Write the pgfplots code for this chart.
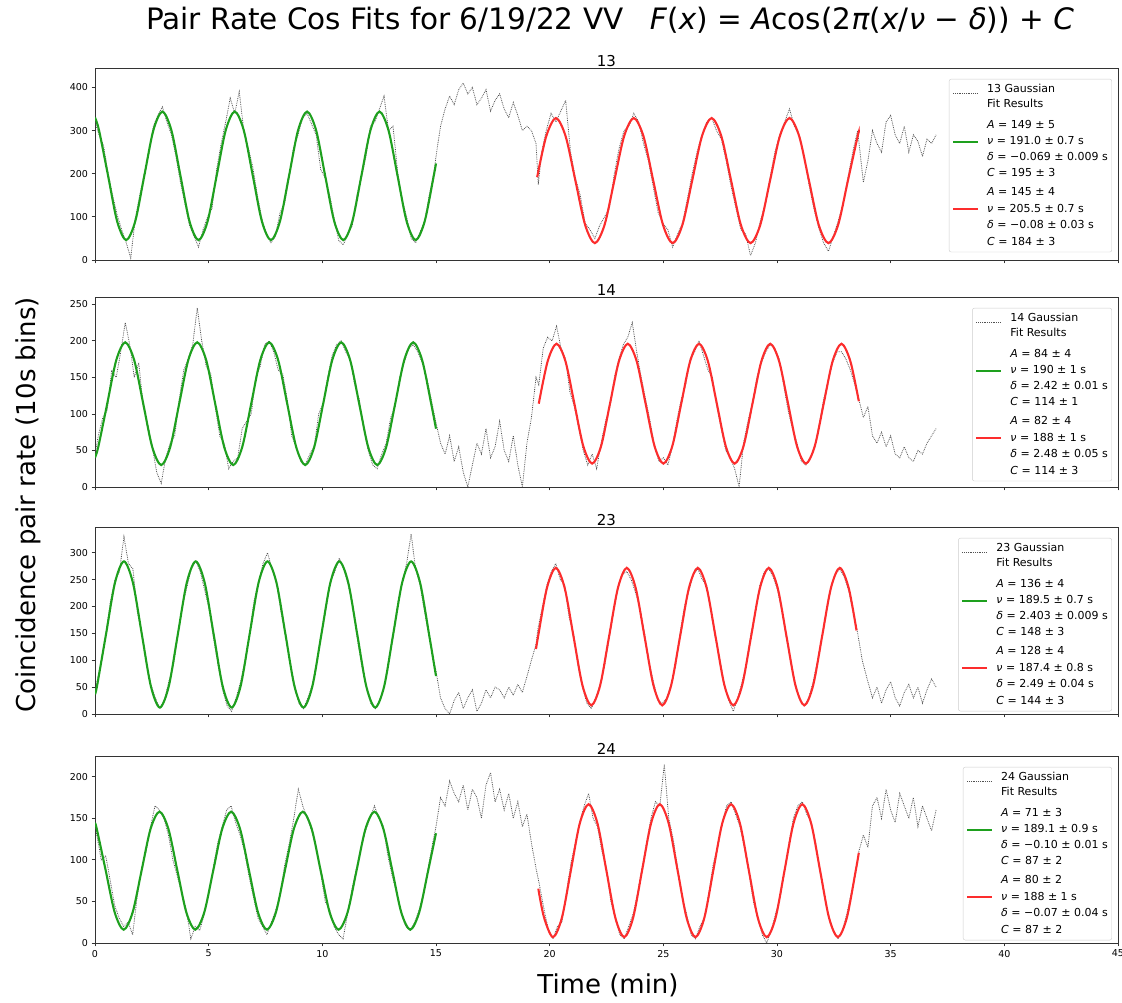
\documentclass[border=0pt]{standalone}
\usepackage{pgfplots}
\pgfplotsset{compat=1.18}
\usepackage{fontspec}
\setmainfont{DejaVu Sans}
\definecolor{fitgreen}{RGB}{30,160,30}
\definecolor{fitred}{RGB}{252,45,45}
\newcommand{\LS}[1]{\rule[-3pt]{0pt}{#1}}
\pgfplotsset{
  panel/.style={
    scale only axis, width=1023pt, anchor=south west,
    xmin=0, xmax=45, xtick={0,5,...,45}, ymin=0,
    tick align=outside, tick pos=left, major tick length=3.5pt,
    axis line style={black!80, line width=0.9pt},
    tick style={black!80, line width=0.8pt},
    ticklabel style={font=\fontsize{9.5}{11}\selectfont},
    /pgf/number format/assume math mode=true,
    title style={font=\fontsize{15}{18}\selectfont, yshift=-8pt},
    legend cell align=left,
    legend style={font=\fontsize{11}{13}\selectfont, draw=black!20, rounded corners=2pt,
      at={(1,1)}, anchor=north east, xshift=-6pt, yshift=-11pt, row sep=0pt, column sep=9pt,
      inner xsep=4pt, inner ysep=5pt, nodes={inner sep=0pt}},
    legend image code/.code={\path[draw=none,fill=none] (0pt,0pt) -- (25pt,0pt); \draw[##1,overlay] (0pt,-4.2pt) -- (25pt,-4.2pt);},
  },
  rawdata/.style={black!68, densely dotted, line width=0.8pt},
  gfit/.style={fitgreen, line width=2.1pt, smooth},
  rfit/.style={fitred, line width=2.1pt, smooth},
}
\begin{document}
\begin{tikzpicture}
\useasboundingbox (0,0) rectangle (1122pt,1003pt);
\clip (0,0) rectangle (1122pt,1003pt);

% ---------------- Panel 13 ----------------
\begin{axis}[panel, at={(95pt,743pt)}, height=192pt, ymax=445, ytick={0,100,...,400}, xticklabels={}, title={13}]
\addplot[rawdata, forget plot] coordinates {
(0,320)(0.178,290)(0.377,265)(0.576,200)(0.775,150)(0.974,105)(1.173,70)(1.372,40)(1.571,5)(1.770,95)(1.969,150)(2.168,200)(2.367,245)(2.566,310)(2.765,335)(2.964,355)(3.163,320)(3.362,290)(3.561,240)(3.760,180)(3.959,130)(4.157,80)(4.356,55)(4.555,30)(4.754,70)(4.953,100)(5.152,120)(5.351,210)(5.550,270)(5.749,320)(5.948,375)(6.147,340)(6.346,390)(6.545,300)(6.744,260)(6.943,215)(7.142,150)(7.341,95)(7.540,60)(7.739,40)(7.938,55)(8.137,110)(8.336,130)(8.535,190)(8.734,260)(8.932,290)(9.131,330)(9.330,340)(9.529,315)(9.728,290)(9.927,210)(10.126,190)(10.325,150)(10.524,95)(10.723,45)(10.922,35)(11.121,60)(11.320,80)(11.519,150)(11.718,190)(11.917,240)(12.116,310)(12.315,320)(12.514,350)(12.713,380)(12.912,300)(13.111,310)(13.310,205)(13.509,140)(13.708,100)(13.907,50)(14.105,40)(14.304,65)(14.503,90)(14.702,150)(14.901,200)(15.0,240)
(15.2,310)(15.4,350)(15.6,380)(15.8,360)(16.0,395)(16.2,410)(16.4,385)(16.6,400)(16.8,360)(17.0,375)(17.2,395)(17.4,345)(17.6,370)(17.8,385)(18.0,350)(18.2,330)(18.4,365)(18.6,335)(18.8,300)(19.0,310)(19.2,300)(19.4,270)
(19.5,175)(19.65,250)(19.848,300)(20.062,340)(20.276,320)(20.490,345)(20.704,370)(20.918,250)(21.132,190)(21.346,150)(21.560,85)(21.774,70)(21.988,50)(22.202,80)(22.416,100)(22.630,120)(22.845,200)(23.059,260)(23.273,300)(23.487,310)(23.701,340)(23.915,320)(24.129,270)(24.343,230)(24.557,170)(24.771,110)(24.985,85)(25.199,70)(25.413,30)(25.627,60)(25.841,85)(26.055,140)(26.270,200)(26.484,250)(26.698,290)(26.912,320)(27.126,330)(27.340,300)(27.554,280)(27.768,230)(27.982,170)(28.196,120)(28.410,70)(28.624,60)(28.838,10)(29.052,40)(29.266,90)(29.480,130)(29.695,190)(29.909,250)(30.123,290)(30.337,320)(30.551,350)(30.765,310)(30.979,290)(31.193,240)(31.407,175)(31.621,120)(31.835,75)(32.049,40)(32.263,20)(32.477,55)(32.691,90)(32.905,130)(33.120,190)(33.334,250)(33.548,300)
(33.8,180)(34.0,230)(34.2,300)(34.4,270)(34.6,250)(34.8,320)(35.0,335)(35.2,290)(35.4,270)(35.6,310)(35.8,250)(36.0,290)(36.2,275)(36.4,240)(36.6,280)(36.8,270)(37.0,290)
};
\addplot[gfit, forget plot] coordinates {
(0,330.2)(0.178,300.4)(0.576,195)(0.974,89.6)(1.372,46)(1.770,89.6)(2.168,195)(2.566,300.4)(2.964,344)(3.362,300.4)(3.760,195)(4.157,89.6)(4.555,46)(4.953,89.6)(5.351,195)(5.749,300.4)(6.147,344)(6.545,300.4)(6.943,195)(7.341,89.6)(7.739,46)(8.137,89.6)(8.535,195)(8.932,300.4)(9.330,344)(9.728,300.4)(10.126,195)(10.524,89.6)(10.922,46)(11.320,89.6)(11.718,195)(12.116,300.4)(12.514,344)(12.912,300.4)(13.310,195)(13.708,89.6)(14.105,46)(14.503,89.6)(14.901,195)(15,223.8)
};
\addplot[rfit, forget plot] coordinates {
(19.45,192)(19.848,286.5)(20.276,329)(20.704,286.5)(21.132,184)(21.560,81.5)(21.988,39)(22.416,81.5)(22.845,184)(23.273,286.5)(23.701,329)(24.129,286.5)(24.557,184)(24.985,81.5)(25.413,39)(25.841,81.5)(26.270,184)(26.698,286.5)(27.126,329)(27.554,286.5)(27.982,184)(28.410,81.5)(28.838,39)(29.266,81.5)(29.695,184)(30.123,286.5)(30.551,329)(30.979,286.5)(31.407,184)(31.835,81.5)(32.263,39)(32.691,81.5)(33.120,184)(33.548,286.5)(33.6,296)
};
\addlegendimage{rawdata}\addlegendentry{\LS{11pt}13 Gaussian}
\addlegendimage{empty legend}\addlegendentry{\LS{16.5pt}Fit Results}
\addlegendimage{empty legend}\addlegendentry{\LS{22.5pt}\textit{A} = 149 ± 5}
\addlegendimage{gfit}\addlegendentry{\LS{17.5pt}\textit{ν} = 191.0 ± 0.7 s}
\addlegendimage{empty legend}\addlegendentry{\LS{17.5pt}\textit{δ} = −0.069 ± 0.009 s}
\addlegendimage{empty legend}\addlegendentry{\LS{17.5pt}\textit{C} = 195 ± 3}
\addlegendimage{empty legend}\addlegendentry{\LS{20pt}\textit{A} = 145 ± 4}
\addlegendimage{rfit}\addlegendentry{\LS{18.5pt}\textit{ν} = 205.5 ± 0.7 s}
\addlegendimage{empty legend}\addlegendentry{\LS{18pt}\textit{δ} = −0.08 ± 0.03 s}
\addlegendimage{empty legend}\addlegendentry{\LS{18.5pt}\textit{C} = 184 ± 3}
\end{axis}

% ---------------- Panel 14 ----------------
\begin{axis}[panel, at={(95pt,516pt)}, height=190pt, ymax=260, ytick={0,50,...,250}, xticklabels={}, title={14}]
\addplot[rawdata, forget plot] coordinates {
(0,45)(0.143,70)(0.341,95)(0.538,105)(0.736,160)(0.934,150)(1.132,185)(1.330,225)(1.528,195)(1.726,150)(1.924,170)(2.122,110)(2.320,85)(2.518,55)(2.716,20)(2.913,5)(3.111,40)(3.309,60)(3.507,70)(3.705,120)(3.903,160)(4.101,175)(4.299,195)(4.497,245)(4.695,200)(4.893,165)(5.091,155)(5.288,110)(5.486,70)(5.684,60)(5.882,25)(6.080,35)(6.278,40)(6.476,80)(6.674,90)(6.872,100)(7.070,150)(7.268,165)(7.466,195)(7.663,200)(7.861,185)(8.059,160)(8.257,155)(8.455,120)(8.653,70)(8.851,55)(9.049,35)(9.247,30)(9.445,45)(9.643,55)(9.841,100)(10.038,115)(10.236,150)(10.434,180)(10.632,195)(10.830,200)(11.028,185)(11.226,175)(11.424,140)(11.622,120)(11.820,80)(12.018,50)(12.216,30)(12.413,25)(12.611,45)(12.809,60)(13.007,95)(13.205,110)(13.403,150)(13.601,170)(13.799,190)(13.997,195)(14.195,185)(14.393,170)(14.591,150)(14.788,120)(14.986,90)
(15.2,60)(15.4,45)(15.6,70)(15.8,35)(16.0,55)(16.2,20)(16.4,0)(16.6,30)(16.8,60)(17.0,45)(17.2,80)(17.4,40)(17.6,55)(17.8,90)(18.0,50)(18.2,35)(18.4,70)(18.6,30)(18.8,0)(19.0,60)(19.2,95)(19.4,150)
(19.521,140)(19.717,190)(19.912,205)(20.108,200)(20.304,220)(20.500,190)(20.696,175)(20.892,130)(21.088,110)(21.284,80)(21.479,50)(21.675,30)(21.871,45)(22.067,25)(22.263,60)(22.459,90)(22.654,110)(22.850,150)(23.046,175)(23.242,195)(23.438,205)(23.634,225)(23.829,185)(24.025,150)(24.221,120)(24.417,90)(24.613,55)(24.809,35)(25.004,40)(25.200,30)(25.396,55)(25.592,90)(25.788,120)(25.984,140)(26.179,175)(26.375,185)(26.571,200)(26.767,180)(26.963,160)(27.159,150)(27.354,110)(27.550,80)(27.746,50)(27.942,40)(28.138,25)(28.334,0)(28.529,60)(28.725,90)(28.921,115)(29.117,150)(29.313,170)(29.509,185)(29.704,195)(29.900,190)(30.096,175)(30.292,140)(30.488,105)(30.684,80)(30.879,60)(31.075,35)(31.271,30)(31.467,40)(31.663,55)(31.859,85)(32.054,120)(32.250,145)(32.446,170)(32.642,185)(32.838,185)(33.034,175)(33.229,160)(33.425,140)
(33.6,120)(33.8,95)(34.0,110)(34.2,70)(34.4,60)(34.6,75)(34.8,55)(35.0,70)(35.2,45)(35.4,40)(35.6,55)(35.8,40)(36.0,35)(36.2,50)(36.4,45)(36.6,60)(36.8,70)(37.0,80)
};
\addplot[gfit, forget plot] coordinates {
(0,40.4)(0.143,54.6)(0.538,114)(0.934,173.4)(1.330,198)(1.726,173.4)(2.122,114)(2.518,54.6)(2.913,30)(3.309,54.6)(3.705,114)(4.101,173.4)(4.497,198)(4.893,173.4)(5.288,114)(5.684,54.6)(6.080,30)(6.476,54.6)(6.872,114)(7.268,173.4)(7.663,198)(8.059,173.4)(8.455,114)(8.851,54.6)(9.247,30)(9.643,54.6)(10.038,114)(10.434,173.4)(10.830,198)(11.226,173.4)(11.622,114)(12.018,54.6)(12.413,30)(12.809,54.6)(13.205,114)(13.601,173.4)(13.997,198)(14.393,173.4)(14.788,114)(15,79.8)
};
\addplot[rfit, forget plot] coordinates {
(19.521,114)(19.912,172)(20.304,196)(20.696,172)(21.088,114)(21.479,56)(21.871,32)(22.263,56)(22.654,114)(23.046,172)(23.438,196)(23.829,172)(24.221,114)(24.613,56)(25.004,32)(25.396,56)(25.788,114)(26.179,172)(26.571,196)(26.963,172)(27.354,114)(27.746,56)(28.138,32)(28.529,56)(28.921,114)(29.313,172)(29.704,196)(30.096,172)(30.488,114)(30.879,56)(31.271,32)(31.663,56)(32.054,114)(32.446,172)(32.838,196)(33.229,172)(33.6,117.4)
};
\addlegendimage{rawdata}\addlegendentry{\LS{11pt}14 Gaussian}
\addlegendimage{empty legend}\addlegendentry{\LS{16.5pt}Fit Results}
\addlegendimage{empty legend}\addlegendentry{\LS{22.5pt}\textit{A} = 84 ± 4}
\addlegendimage{gfit}\addlegendentry{\LS{17.5pt}\textit{ν} = 190 ± 1 s}
\addlegendimage{empty legend}\addlegendentry{\LS{17.5pt}\textit{δ} = 2.42 ± 0.01 s}
\addlegendimage{empty legend}\addlegendentry{\LS{17.5pt}\textit{C} = 114 ± 1}
\addlegendimage{empty legend}\addlegendentry{\LS{20pt}\textit{A} = 82 ± 4}
\addlegendimage{rfit}\addlegendentry{\LS{18.5pt}\textit{ν} = 188 ± 1 s}
\addlegendimage{empty legend}\addlegendentry{\LS{18pt}\textit{δ} = 2.48 ± 0.05 s}
\addlegendimage{empty legend}\addlegendentry{\LS{18.5pt}\textit{C} = 114 ± 3}
\end{axis}

% ---------------- Panel 23 ----------------
\begin{axis}[panel, at={(95pt,289pt)}, height=187pt, ymax=348, ytick={0,50,...,300}, xticklabels={}, title={23}]
\addplot[rawdata, forget plot] coordinates {
(0,40)(0.088,60)(0.286,100)(0.483,150)(0.681,210)(0.878,250)(1.076,265)(1.273,330)(1.471,280)(1.668,270)(1.865,190)(2.062,150)(2.260,95)(2.457,55)(2.655,30)(2.852,10)(3.050,25)(3.247,60)(3.444,90)(3.642,145)(3.839,200)(4.036,235)(4.234,270)(4.431,285)(4.629,265)(4.826,230)(5.023,195)(5.221,140)(5.418,90)(5.615,45)(5.813,15)(6.010,5)(6.208,30)(6.405,60)(6.602,100)(6.800,150)(6.997,210)(7.195,245)(7.392,280)(7.589,300)(7.787,270)(7.984,245)(8.181,190)(8.379,150)(8.576,95)(8.774,55)(8.971,20)(9.169,10)(9.366,30)(9.563,55)(9.761,100)(9.958,150)(10.155,195)(10.353,245)(10.550,265)(10.748,290)(10.945,270)(11.142,240)(11.340,200)(11.537,140)(11.735,90)(11.932,50)(12.129,20)(12.327,10)(12.524,25)(12.722,50)(12.919,100)(13.116,145)(13.314,205)(13.511,245)(13.708,280)(13.906,335)(14.103,270)(14.301,240)(14.498,190)(14.696,145)(14.893,100)
(15.0,80)(15.2,30)(15.4,10)(15.6,0)(15.8,25)(16.0,40)(16.2,10)(16.4,30)(16.6,45)(16.8,5)(17.0,20)(17.2,45)(17.4,30)(17.6,50)(17.8,45)(18.0,30)(18.2,50)(18.4,35)(18.6,55)(18.8,40)(19.0,70)(19.2,100)(19.4,130)
(19.490,160)(19.685,200)(19.880,240)(20.075,265)(20.271,280)(20.466,250)(20.661,240)(20.856,180)(21.051,150)(21.246,90)(21.442,50)(21.637,20)(21.832,10)(22.027,30)(22.223,55)(22.418,90)(22.613,140)(22.808,190)(23.003,235)(23.198,260)(23.394,265)(23.589,250)(23.784,225)(23.979,195)(24.175,150)(24.370,95)(24.565,60)(24.760,25)(24.955,20)(25.150,30)(25.346,55)(25.541,90)(25.736,150)(25.931,200)(26.127,230)(26.322,260)(26.517,270)(26.712,250)(26.907,240)(27.102,190)(27.298,140)(27.493,100)(27.688,55)(27.883,25)(28.079,5)(28.274,30)(28.469,60)(28.664,95)(28.860,150)(29.055,190)(29.250,240)(29.445,265)(29.640,270)(29.835,255)(30.031,230)(30.226,190)(30.421,140)(30.616,95)(30.811,55)(31.006,25)(31.202,15)(31.397,30)(31.592,60)(31.787,100)(31.983,145)(32.178,190)(32.373,235)(32.568,260)(32.763,270)(32.958,255)(33.154,230)(33.349,190)
(33.55,150)(33.75,100)(34.0,60)(34.2,30)(34.4,50)(34.6,20)(34.8,45)(35.0,60)(35.2,30)(35.4,15)(35.6,40)(35.8,55)(36.0,30)(36.2,50)(36.4,20)(36.6,45)(36.8,65)(37.0,50)
};
\addplot[gfit, forget plot] coordinates {
(0,36.7)(0.088,51.8)(0.483,148)(0.878,244.2)(1.273,284)(1.668,244.2)(2.062,148)(2.457,51.8)(2.852,12)(3.247,51.8)(3.642,148)(4.036,244.2)(4.431,284)(4.826,244.2)(5.221,148)(5.615,51.8)(6.010,12)(6.405,51.8)(6.800,148)(7.195,244.2)(7.589,284)(7.984,244.2)(8.379,148)(8.774,51.8)(9.169,12)(9.563,51.8)(9.958,148)(10.353,244.2)(10.748,284)(11.142,244.2)(11.537,148)(11.932,51.8)(12.327,12)(12.722,51.8)(13.116,148)(13.511,244.2)(13.906,284)(14.301,244.2)(14.696,148)(15,70.7)
};
\addplot[rfit, forget plot] coordinates {
(19.4,120.9)(19.490,144)(19.880,234.5)(20.271,272)(20.661,234.5)(21.051,144)(21.442,53.5)(21.832,16)(22.223,53.5)(22.613,144)(23.003,234.5)(23.394,272)(23.784,234.5)(24.175,144)(24.565,53.5)(24.955,16)(25.346,53.5)(25.736,144)(26.127,234.5)(26.517,272)(26.907,234.5)(27.298,144)(27.688,53.5)(28.079,16)(28.469,53.5)(28.860,144)(29.250,234.5)(29.640,272)(30.031,234.5)(30.421,144)(30.811,53.5)(31.202,16)(31.592,53.5)(31.983,144)(32.373,234.5)(32.763,272)(33.154,234.5)(33.5,155.5)
};
\addlegendimage{rawdata}\addlegendentry{\LS{11pt}23 Gaussian}
\addlegendimage{empty legend}\addlegendentry{\LS{16.5pt}Fit Results}
\addlegendimage{empty legend}\addlegendentry{\LS{22.5pt}\textit{A} = 136 ± 4}
\addlegendimage{gfit}\addlegendentry{\LS{17.5pt}\textit{ν} = 189.5 ± 0.7 s}
\addlegendimage{empty legend}\addlegendentry{\LS{17.5pt}\textit{δ} = 2.403 ± 0.009 s}
\addlegendimage{empty legend}\addlegendentry{\LS{17.5pt}\textit{C} = 148 ± 3}
\addlegendimage{empty legend}\addlegendentry{\LS{20pt}\textit{A} = 128 ± 4}
\addlegendimage{rfit}\addlegendentry{\LS{18.5pt}\textit{ν} = 187.4 ± 0.8 s}
\addlegendimage{empty legend}\addlegendentry{\LS{18pt}\textit{δ} = 2.49 ± 0.04 s}
\addlegendimage{empty legend}\addlegendentry{\LS{18.5pt}\textit{C} = 144 ± 3}
\end{axis}

% ---------------- Panel 24 ----------------
\begin{axis}[panel, at={(95pt,60pt)}, height=187pt, ymax=225, ytick={0,50,...,200}, title={24}]
\addplot[rawdata, forget plot] coordinates {
(0,145)(0.079,130)(0.276,100)(0.473,105)(0.670,75)(0.867,45)(1.064,30)(1.261,20)(1.458,25)(1.655,10)(1.852,55)(2.049,90)(2.246,110)(2.443,140)(2.640,165)(2.837,160)(3.034,150)(3.230,130)(3.427,100)(3.624,80)(3.821,60)(4.018,40)(4.215,5)(4.412,20)(4.609,15)(4.806,35)(5.003,60)(5.200,90)(5.397,120)(5.594,140)(5.791,160)(5.988,165)(6.185,145)(6.382,130)(6.579,110)(6.776,80)(6.973,55)(7.170,30)(7.367,20)(7.564,10)(7.761,25)(7.958,40)(8.155,60)(8.352,95)(8.549,120)(8.746,150)(8.943,185)(9.140,165)(9.337,150)(9.534,135)(9.731,115)(9.928,85)(10.125,50)(10.322,40)(10.519,20)(10.716,10)(10.913,5)(11.110,35)(11.307,65)(11.504,90)(11.701,115)(11.898,135)(12.095,150)(12.292,165)(12.489,150)(12.686,140)(12.883,105)(13.080,80)(13.277,60)(13.473,35)(13.670,20)(13.867,15)(14.064,25)(14.261,40)(14.458,60)(14.655,90)(14.852,120)
(15.0,140)(15.2,175)(15.4,165)(15.6,195)(15.8,180)(16.0,170)(16.2,190)(16.4,160)(16.6,185)(16.8,175)(17.0,150)(17.2,190)(17.4,205)(17.6,170)(17.8,185)(18.0,160)(18.2,180)(18.4,150)(18.6,170)(18.8,140)(19.0,155)(19.2,120)(19.4,90)
(19.55,70)(19.756,40)(19.952,15)(20.147,5)(20.343,20)(20.539,25)(20.735,60)(20.931,95)(21.127,120)(21.322,145)(21.518,165)(21.714,180)(21.910,150)(22.106,140)(22.302,110)(22.497,90)(22.693,50)(22.889,30)(23.085,10)(23.281,5)(23.477,20)(23.672,35)(23.868,60)(24.064,90)(24.260,120)(24.456,150)(24.652,170)(24.847,165)(25.043,215)(25.239,150)(25.435,125)(25.631,90)(25.827,55)(26.023,35)(26.219,10)(26.414,5)(26.610,20)(26.806,30)(27.002,60)(27.197,95)(27.393,115)(27.589,145)(27.785,165)(27.981,170)(28.177,155)(28.373,140)(28.569,115)(28.764,85)(28.960,50)(29.156,30)(29.352,10)(29.548,0)(29.744,15)(29.939,35)(30.135,55)(30.331,85)(30.527,120)(30.723,150)(30.919,165)(31.114,170)(31.310,155)(31.506,145)(31.702,120)(31.898,85)(32.094,55)(32.289,30)(32.485,15)(32.681,5)(32.877,15)(33.073,35)(33.269,60)(33.464,85)
(33.6,110)(33.8,130)(34.0,115)(34.2,165)(34.4,175)(34.6,150)(34.8,185)(35.0,160)(35.2,145)(35.4,180)(35.6,165)(35.8,150)(36.0,175)(36.2,140)(36.4,165)(36.6,150)(36.8,135)(37.0,160)
};
\addplot[gfit, forget plot] coordinates {
(0,144.4)(0.079,137.2)(0.473,87)(0.867,36.8)(1.261,16)(1.655,36.8)(2.049,87)(2.443,137.2)(2.837,158)(3.230,137.2)(3.624,87)(4.018,36.8)(4.412,16)(4.806,36.8)(5.200,87)(5.594,137.2)(5.988,158)(6.382,137.2)(6.776,87)(7.170,36.8)(7.564,16)(7.958,36.8)(8.352,87)(8.746,137.2)(9.140,158)(9.534,137.2)(9.928,87)(10.322,36.8)(10.716,16)(11.110,36.8)(11.504,87)(11.898,137.2)(12.292,158)(12.686,137.2)(13.080,87)(13.473,36.8)(13.867,16)(14.261,36.8)(14.655,87)(15,132.1)
};
\addplot[rfit, forget plot] coordinates {
(19.5,65.4)(19.756,30.4)(20.147,7)(20.539,30.4)(20.931,87)(21.322,143.6)(21.714,167)(22.106,143.6)(22.497,87)(22.889,30.4)(23.281,7)(23.672,30.4)(24.064,87)(24.456,143.6)(24.847,167)(25.239,143.6)(25.631,87)(26.023,30.4)(26.414,7)(26.806,30.4)(27.197,87)(27.589,143.6)(27.981,167)(28.373,143.6)(28.764,87)(29.156,30.4)(29.548,7)(29.939,30.4)(30.331,87)(30.723,143.6)(31.114,167)(31.506,143.6)(31.898,87)(32.289,30.4)(32.681,7)(33.073,30.4)(33.464,87)(33.6,108.5)
};
\addlegendimage{rawdata}\addlegendentry{\LS{11pt}24 Gaussian}
\addlegendimage{empty legend}\addlegendentry{\LS{16.5pt}Fit Results}
\addlegendimage{empty legend}\addlegendentry{\LS{22.5pt}\textit{A} = 71 ± 3}
\addlegendimage{gfit}\addlegendentry{\LS{17.5pt}\textit{ν} = 189.1 ± 0.9 s}
\addlegendimage{empty legend}\addlegendentry{\LS{17.5pt}\textit{δ} = −0.10 ± 0.01 s}
\addlegendimage{empty legend}\addlegendentry{\LS{17.5pt}\textit{C} = 87 ± 2}
\addlegendimage{empty legend}\addlegendentry{\LS{20pt}\textit{A} = 80 ± 2}
\addlegendimage{rfit}\addlegendentry{\LS{18.5pt}\textit{ν} = 188 ± 1 s}
\addlegendimage{empty legend}\addlegendentry{\LS{18pt}\textit{δ} = −0.07 ± 0.04 s}
\addlegendimage{empty legend}\addlegendentry{\LS{18.5pt}\textit{C} = 87 ± 2}
\end{axis}

\node[font=\fontsize{29.5}{34}\selectfont] at (610pt,983pt) {Pair Rate Cos Fits for 6/19/22 VV\hspace{0.9em}\textit{F}(\textit{x}) = \textit{A}cos(2\textit{π}(\textit{x}/\textit{ν} − \textit{δ})) + \textit{C}};
\node[font=\fontsize{26}{30}\selectfont] at (608pt,18pt) {Time (min)};
\node[rotate=90, font=\fontsize{26}{30}\selectfont] at (28pt,498pt) {Coincidence pair rate (10s bins)};
\end{tikzpicture}
\end{document}
